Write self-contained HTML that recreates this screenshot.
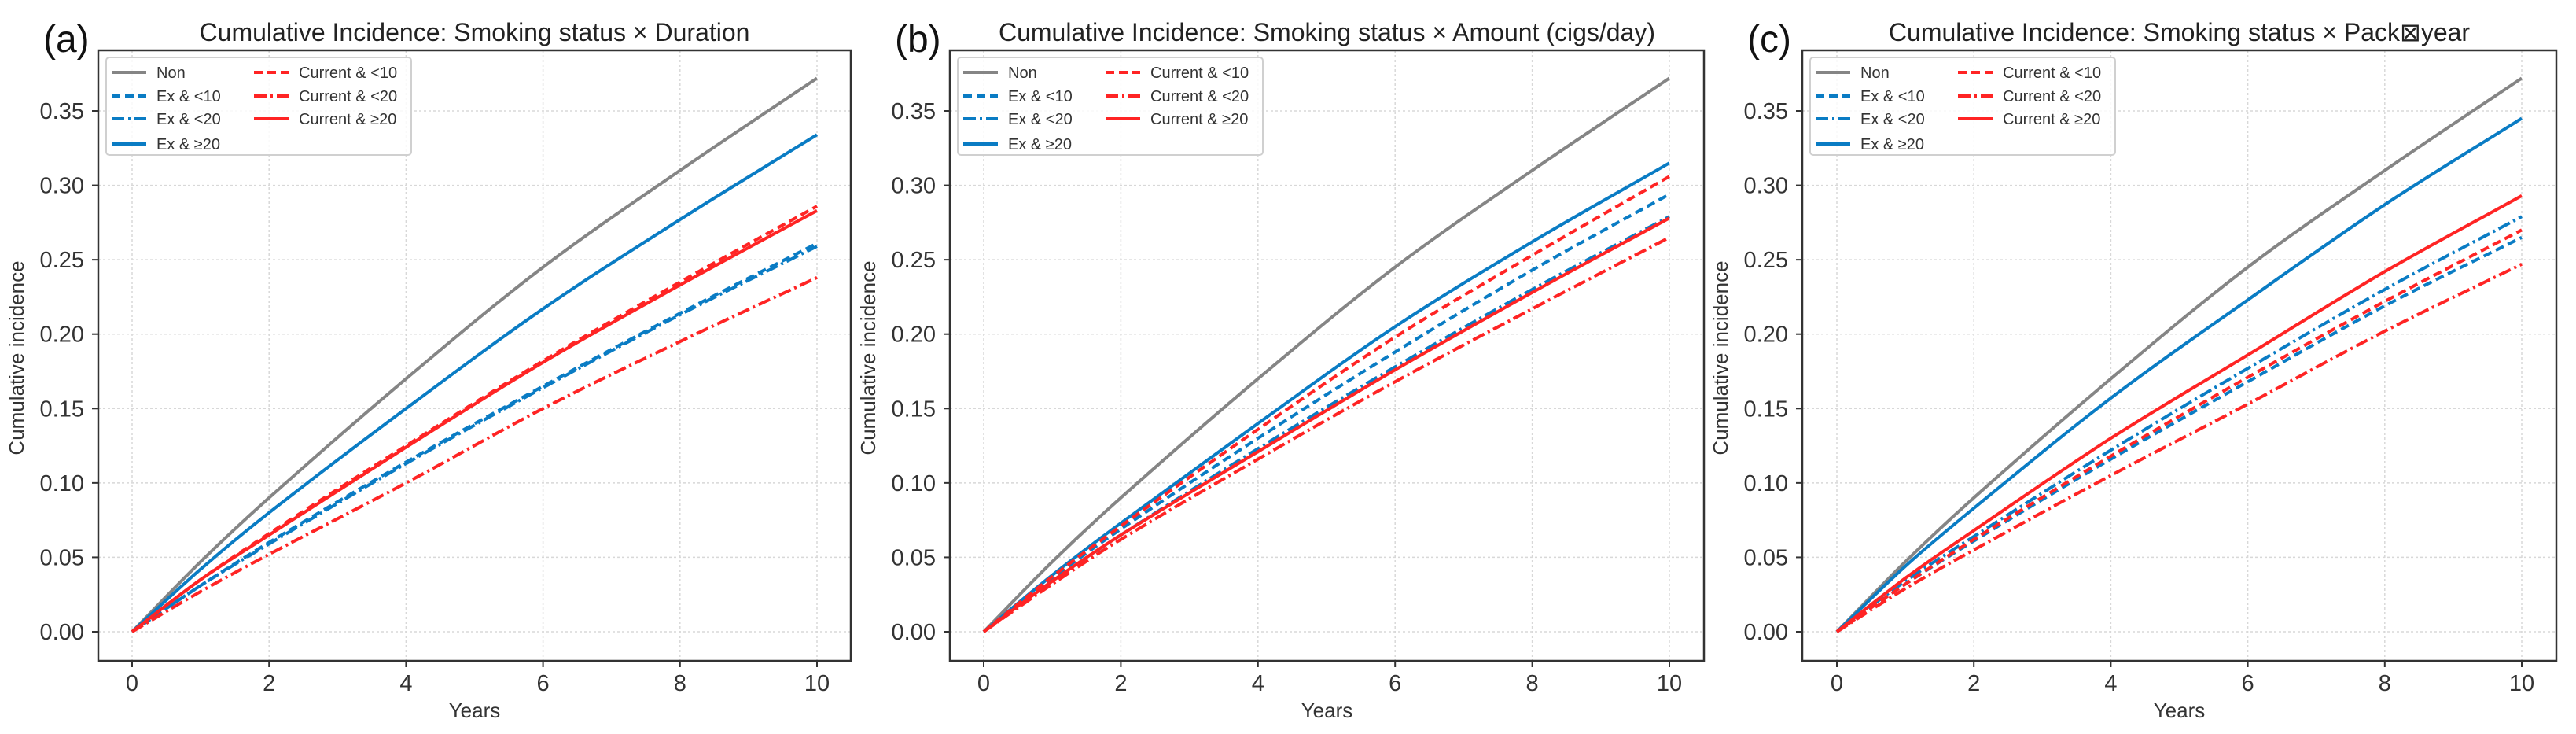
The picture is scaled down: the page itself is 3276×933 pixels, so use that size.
<!DOCTYPE html>
<html><head><meta charset="utf-8">
<style>
html,body{margin:0;padding:0;background:#fff;}
svg{display:block;font-family:"Liberation Sans","NanumGothic",sans-serif;}
</style></head>
<body>
<svg id="fig" width="3276" height="933" viewBox="0 0 3276 933" xmlns="http://www.w3.org/2000/svg"></svg>
<script>
// ---- data ----
const years = [0, 1, 2, 4, 6, 8, 10];
const yTicks = [0, 0.05, 0.10, 0.15, 0.20, 0.25, 0.30, 0.35];
const yTickLabels = ["0.00","0.05","0.10","0.15","0.20","0.25","0.30","0.35"];
const xTicks = [0, 2, 4, 6, 8, 10];
const xTickLabels = ["0","2","4","6","8","10"];
const seriesNames = ["Non","Ex & <10","Ex & <20","Ex & \u226520","Current & <10","Current & <20","Current & \u226520"];
const panelTitles = ["Cumulative Incidence: Smoking status \u00d7 Duration","Cumulative Incidence: Smoking status \u00d7 Amount (cigs/day)","Cumulative Incidence: Smoking status \u00d7 Pack\u22a0year"];
const panelLetters = ["(a)","(b)","(c)"];
// panel a
const aNon   = [0,.047,.090,.170,.245,.310,.372];
const aEx10  = [0,.031,.060,.114,.165,.214,.261];
const aEx20  = [0,.031,.059,.113,.164,.213,.259];
const aEx20p = [0,.042,.080,.150,.217,.277,.334];
const aCu10  = [0,.035,.066,.125,.182,.235,.286];
const aCu20  = [0,.027,.052,.100,.150,.195,.238];
const aCu20p = [0,.035,.065,.124,.181,.233,.283];
// panel b
const bNon   = [0,.047,.090,.170,.245,.310,.372];
const bEx10  = [0,.036,.069,.130,.188,.243,.294];
const bEx20  = [0,.034,.065,.123,.178,.230,.279];
const bEx20p = [0,.038,.073,.140,.205,.262,.315];
const bCu10  = [0,.037,.071,.136,.198,.253,.306];
const bCu20  = [0,.032,.062,.116,.168,.217,.265];
const bCu20p = [0,.034,.065,.121,.176,.228,.278];
// panel c
const cNon   = [0,.047,.090,.170,.245,.310,.372];
const cEx10  = [0,.032,.061,.116,.168,.219,.265];
const cEx20  = [0,.034,.064,.122,.177,.230,.279];
const cEx20p = [0,.044,.083,.157,.223,.287,.345];
const cCu10  = [0,.032,.062,.118,.171,.222,.270];
const cCu20  = [0,.029,.055,.105,.153,.202,.247];
const cCu20p = [0,.036,.068,.130,.186,.242,.293];

const panelData = [
  [aNon,aEx10,aEx20,aEx20p,aCu10,aCu20,aCu20p],
  [bNon,bEx10,bEx20,bEx20p,bCu10,bCu20,bCu20p],
  [cNon,cEx10,cEx20,cEx20p,cCu10,cCu20,cCu20p]
];

// ---- styling ----
const GRAY="#858585", BLUE="#0a7cc4", RED="#ff2424";
const colors=[GRAY,BLUE,BLUE,BLUE,RED,RED,RED];
const dashes=["none","11 6","16 5 3 5","none","11 6","16 5 3 5","none"];
const panels=[
  {left:125,right:1082,x0:168,x10:1039,id:"a"},
  {left:1208,right:2167,x0:1251,x10:2123,id:"b"},
  {left:2292,right:3251,x0:2336,x10:3207,id:"c"}
];
const TOP=64,BOTTOM=840,Y0=803,Y35=141;
const NS="http://www.w3.org/2000/svg";
const svg=document.getElementById("fig");
function mk(tag,attrs,parent){const e=document.createElementNS(NS,tag);for(const k in attrs)e.setAttribute(k,attrs[k]);(parent||svg).appendChild(e);return e;}
function yScale(v){return Y0+(Y35-Y0)*v/0.35;}

panels.forEach((p,pi)=>{
  const xScale=t=>p.x0+(p.x10-p.x0)*t/10;
  const g=mk("g",{});
  
  
  // grid
  yTicks.forEach(v=>{const l=mk("line",{x1:p.left,x2:p.right,y1:yScale(v),y2:yScale(v),stroke:"#d8d8d8","stroke-width":1.5,"stroke-dasharray":"3 3"},g);
    });
  xTicks.forEach(v=>{const l=mk("line",{x1:xScale(v),x2:xScale(v),y1:TOP,y2:BOTTOM,stroke:"#d8d8d8","stroke-width":1.5,"stroke-dasharray":"3 3"},g);
    });
  // series
  panelData[pi].forEach((arr,si)=>{
    const n=years.length;
    const m=years.map((t,i)=>{
      const a=Math.max(0,i-1),b=Math.min(n-1,i+1);
      return (arr[b]-arr[a])/(years[b]-years[a]);
    });
    let d="M"+xScale(years[0])+","+yScale(arr[0]);
    for(let i=0;i<n-1;i++){
      const h=years[i+1]-years[i];
      const c1x=xScale(years[i]+h/3),c1y=yScale(arr[i]+m[i]*h/3);
      const c2x=xScale(years[i+1]-h/3),c2y=yScale(arr[i+1]-m[i+1]*h/3);
      d+=" C"+c1x+","+c1y+" "+c2x+","+c2y+" "+xScale(years[i+1])+","+yScale(arr[i+1]);
    }
    const path=mk("path",{d:d,fill:"none",stroke:colors[si],"stroke-width":4,"stroke-dasharray":dashes[si]},g);
    
    
  });
  // axes frame
  const fr=mk("rect",{x:p.left,y:TOP,width:p.right-p.left,height:BOTTOM-TOP,fill:"none",stroke:"#333","stroke-width":2.5},g);
  
  // ticks
  yTicks.forEach((v,i)=>{
    mk("line",{x1:p.left-8,x2:p.left,y1:yScale(v),y2:yScale(v),stroke:"#333","stroke-width":2},g);
    const t=mk("text",{x:p.left-18,y:yScale(v)+10,"text-anchor":"end","font-size":29,fill:"#333"},g);
    t.textContent=yTickLabels[i];
    
  });
  xTicks.forEach((v,i)=>{
    mk("line",{x1:xScale(v),x2:xScale(v),y1:BOTTOM,y2:BOTTOM+8,stroke:"#333","stroke-width":2},g);
    const t=mk("text",{x:xScale(v),y:878,"text-anchor":"middle","font-size":29,fill:"#333"},g);
    t.textContent=xTickLabels[i];
    
  });
  const xl=mk("text",{x:(p.left+p.right)/2,y:912,"text-anchor":"middle","font-size":26,fill:"#333"},g);
  xl.textContent="Years";
  const cy=455,cx=p.left-95;
  const yl=mk("text",{x:cx,y:cy,"text-anchor":"middle","font-size":26,fill:"#333",transform:"rotate(-90 "+cx+" "+cy+")"},g);
  yl.textContent="Cumulative incidence";
  const ti=mk("text",{x:(p.left+p.right)/2,y:52,"text-anchor":"middle","font-size":32,fill:"#222"},g);
  ti.textContent=panelTitles[pi];
  const le=mk("text",{x:p.left-70,y:66,"font-size":48,fill:"#111"},g);
  le.textContent=panelLetters[pi];
  // legend
  const lg=mk("g",{},g);
  
  const lx=p.left+10;
  mk("rect",{x:lx,y:73,width:388,height:124,rx:4,fill:"#fff","fill-opacity":0.85,stroke:"#d0d0d0","stroke-width":2},lg);
  const rowsY=[92,122,151,183];
  seriesNames.forEach((n,si)=>{
    const col=si<4?0:1,row=si<4?si:si-4;
    const bx=lx+(col?188:7),y=rowsY[row];
    const e=mk("g",{},lg);
    
    mk("line",{x1:bx,x2:bx+44,y1:y,y2:y,stroke:colors[si],"stroke-width":4,"stroke-dasharray":dashes[si]},e);
    const t=mk("text",{x:bx+57,y:y+7,"font-size":20,fill:"#333"},e);
    t.textContent=n;
  });
});
</script>
</body></html>
